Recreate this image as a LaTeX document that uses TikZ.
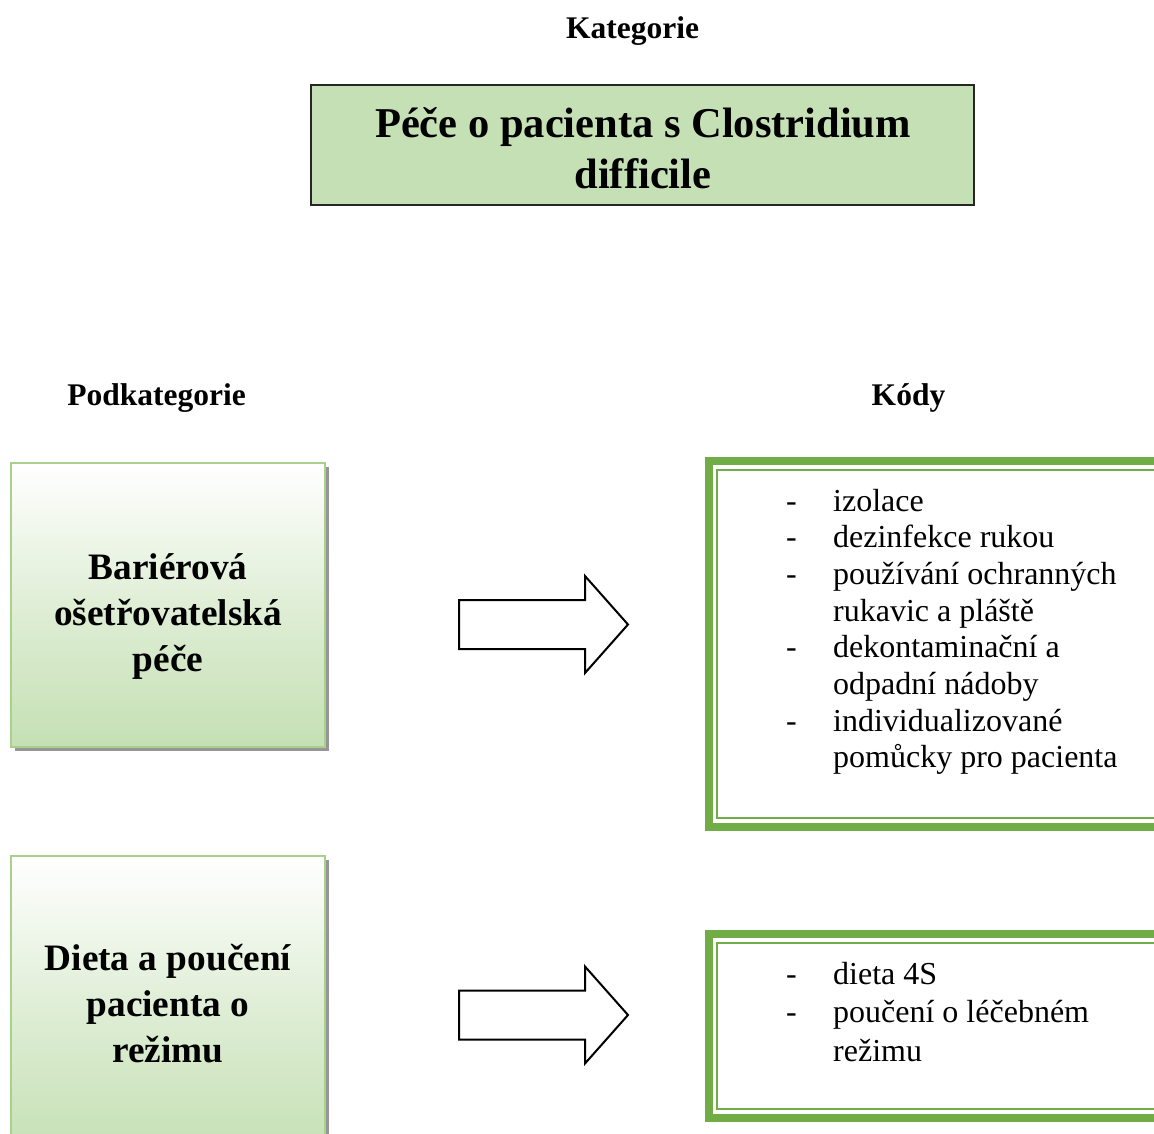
\documentclass[tikz,border=0pt]{standalone}
\usepackage{fontspec}
\setmainfont{Liberation Serif}
\usetikzlibrary{shadows}
\definecolor{boxgreen}{RGB}{197,224,180}
\definecolor{edgegreen}{RGB}{169,209,142}
\definecolor{framegreen}{RGB}{112,173,71}
\definecolor{shadowgray}{RGB}{150,150,150}

\begin{document}
\begin{tikzpicture}[x=1pt,y=-1pt,
  header/.style={font=\fontsize{31.5}{38}\selectfont\bfseries, inner sep=0, anchor=base},
  catbox/.style={draw=black!85, line width=1.5, fill=boxgreen},
  subbox/.style={draw=edgegreen, line width=2.5, top color=white, bottom color=boxgreen,
                 middle color=white!45!boxgreen,
                 drop shadow={shadow xshift=3.5pt, shadow yshift=-3.5pt, fill=shadowgray, opacity=1}},
  subtext/.style={font=\fontsize{37.3}{46}\selectfont\bfseries, inner sep=0, anchor=base},
  codetext/.style={inner sep=0, anchor=base west},
  outerframe/.style={draw=framegreen, line width=8},
  innerframe/.style={draw=framegreen, line width=2},
  blockarrow/.style={draw=black, line width=2, fill=white, line join=miter}
]
\useasboundingbox (0,0) rectangle (1154,1133);
\clip (0,0) rectangle (1154,1133);

% column headings
\node[header] (kat) at (632.5,38) {Kategorie};
\node[header] (podkat) at (156.5,405) {Podkategorie};
\node[header] (kody) at (908.5,405) {Kódy};

% category box
\path[catbox] (311,85) rectangle (974,205);
\node[inner sep=0, anchor=base, font=\fontsize{42.5}{51}\selectfont\bfseries] (cat) at (643,137)
  {\begin{tabular}[t]{@{}c@{}}Péče o pacienta s Clostridium\\difficile\end{tabular}};

% subcategory boxes
\node[subbox, minimum width=314, minimum height=284, inner sep=0] (sub1) at (168,605) {};
\node[subtext] (sub1t) at (168,579)
  {\begin{tabular}[t]{@{}c@{}}Bariérová\\ošetřovatelská\\péče\end{tabular}};

\node[subbox, minimum width=314, minimum height=300, inner sep=0] (sub2) at (168,1006) {};
\node[subtext] (sub2t) at (168,970)
  {\begin{tabular}[t]{@{}c@{}}Dieta a poučení\\pacienta o\\režimu\end{tabular}};

% block arrows
\coordinate (a1) at (459,624.5);
\coordinate (a2) at (459,1015);
\foreach \a in {a1,a2}{
  \draw[blockarrow] (\a) ++(0,-24.5) -- ++(126,0) -- ++(0,-24) -- ++(43,48.5)
    -- ++(-43,48.5) -- ++(0,-24) -- ++(-126,0) -- cycle;
}

% code boxes with double frame
\draw[outerframe] (709,461) rectangle (1190,826.5);
\draw[innerframe] (717,469.5) rectangle (1190,817.5);
\node[codetext, font=\fontsize{32}{36.7}\selectfont] (codes1) at (786,511)
  {\begin{tabular}[t]{@{}p{47pt}@{}l@{}}
   - & izolace\\
   - & dezinfekce rukou\\
   - & používání ochranných\\
     & rukavic a pláště\\
   - & dekontaminační a\\
     & odpadní nádoby\\
   - & individualizované\\
     & pomůcky pro pacienta
   \end{tabular}};

\draw[outerframe] (709,933.5) rectangle (1190,1117.5);
\draw[innerframe] (717,943) rectangle (1190,1109);
\node[codetext, font=\fontsize{32}{38.8}\selectfont] (codes2) at (786,984)
  {\begin{tabular}[t]{@{}p{47pt}@{}l@{}}
   - & dieta 4S\\
   - & poučení o léčebném\\
     & režimu
   \end{tabular}};
\end{tikzpicture}
\end{document}
